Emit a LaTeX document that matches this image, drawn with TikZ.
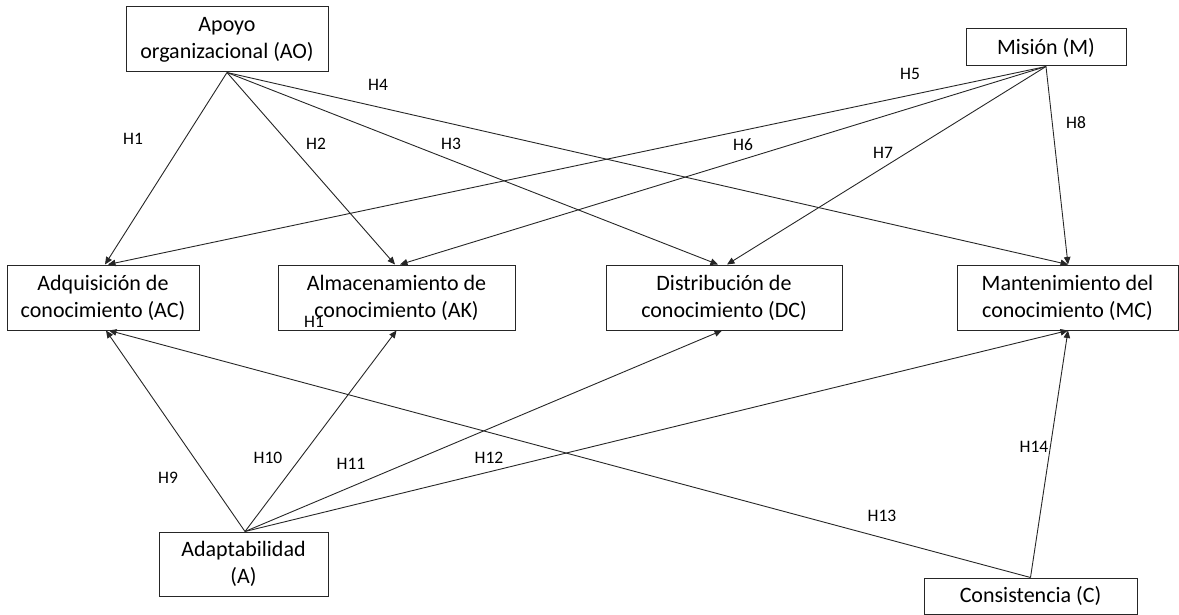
\documentclass[tikz,border=0pt]{standalone}
\usepackage{fontspec}
\setmainfont{Carlito}
\usetikzlibrary{arrows.meta,calc}
\tikzset{
  box/.style={draw=black!85, line width=1pt, fill=white, inner sep=0pt, align=center,
    font=\fontsize{22}{27}\selectfont},
  hlab/.style={inner sep=0pt, font=\fontsize{17.5}{20}\selectfont},
  conn/.style={line width=0.9pt, draw=black!85, -{Triangle[length=7.5pt,width=6.5pt]}}
}
\begin{document}
\begin{tikzpicture}[x=1pt,y=-1pt]
\useasboundingbox (0,0) rectangle (1179,615);
% boxes
\node[box, minimum width=202pt, minimum height=65pt] (AO) at (227,39.5) {Apoyo\\organizacional (AO)};
\node[box, minimum width=160pt, minimum height=37pt] (M) at (1046,47.5) {Misión (M)};
\node[box, minimum width=192pt, minimum height=65pt] (AC) at (103,297.5) {Adquisición de\\conocimiento (AC)};
\node[box, minimum width=237pt, minimum height=65pt] (AK) at (396.5,297.5) {Almacenamiento de\\conocimiento (AK)};
\node[box, minimum width=236pt, minimum height=65pt] (DC) at (724,297.5) {Distribución de\\conocimiento (DC)};
\node[box, minimum width=221pt, minimum height=65pt] (MC) at (1067.5,297.5) {Mantenimiento del\\conocimiento (MC)};
\node[box, minimum width=169pt, minimum height=64pt] (A) at (243.5,564) {Adaptabilidad\\(A)};
\node[box, minimum width=213pt, minimum height=36pt] (C) at (1030.5,596) {Consistencia (C)};
% sources
\coordinate (aos) at (AO.south);
\coordinate (ms) at (M.south);
\coordinate (an) at ($(A.north)+(1.5,0)$);
\coordinate (cn) at (C.north);
% targets
\coordinate (acn1) at ($(AC.north)+(2,0)$);
\coordinate (acn2) at ($(AC.north)+(5,0)$);
\coordinate (akn1) at ($(AK.north)+(-1.5,0)$);
\coordinate (akn2) at ($(AK.north)+(3.5,0)$);
\coordinate (dcn1) at ($(DC.north)+(-6,0)$);
\coordinate (dcn2) at ($(DC.north)+(3,0)$);
\coordinate (mcn) at ($(MC.north)+(0.5,0)$);
\coordinate (acs1) at ($(AC.south)+(3,0)$);
\coordinate (acs2) at ($(AC.south)+(6,0)$);
\coordinate (aks) at (AK.south);
\coordinate (dcs) at ($(DC.south)+(-2,0)$);
\coordinate (mcs) at ($(MC.south)+(0.5,0)$);
% connectors
\draw[conn] (aos) -- (acn1);
\draw[conn] (aos) -- (akn1);
\draw[conn] (aos) -- (dcn1);
\draw[conn] (aos) -- (mcn);
\draw[conn] (ms) -- (acn2);
\draw[conn] (ms) -- (akn2);
\draw[conn] (ms) -- (dcn2);
\draw[conn] (ms) -- (mcn);
\draw[conn] (an) -- (acs1);
\draw[conn] (an) -- (aks);
\draw[conn] (an) -- (dcs);
\draw[conn] (an) -- (mcs);
\draw[conn] (cn) -- (acs2);
\draw[conn] (cn) -- (mcs);
% labels
\node[hlab] (h1) at (133,139) {H1};
\node[hlab] (h2) at (316,144) {H2};
\node[hlab] (h3) at (451,144) {H3};
\node[hlab] (h4) at (378,85) {H4};
\node[hlab] (h5) at (910,74) {H5};
\node[hlab] (h6) at (743,145) {H6};
\node[hlab] (h7) at (883,153) {H7};
\node[hlab] (h8) at (1076,123) {H8};
\node[hlab] (h9) at (168,478) {H9};
\node[hlab] (h10) at (268,458) {H10};
\node[hlab] (h11) at (351,464) {H11};
\node[hlab] (h12) at (489,458) {H12};
\node[hlab] (h13) at (882,516) {H13};
\node[hlab] (h14) at (1034,447) {H14};
\node[hlab] (h1b) at (314,322) {H1};
\end{tikzpicture}
\end{document}
